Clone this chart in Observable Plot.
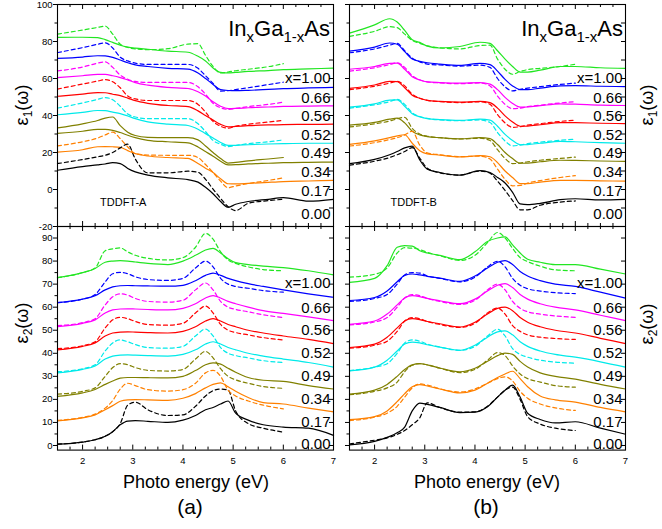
<!DOCTYPE html>
<html>
<head>
<meta charset="utf-8">
<script src="https://cdn.jsdelivr.net/npm/d3@7"></script>
<script src="https://cdn.jsdelivr.net/npm/@observablehq/plot@0.6"></script>
<style>
  html, body { margin: 0; padding: 0; background: white; }
  #chart { position: relative; width: 662px; height: 529px; overflow: hidden; }
  #chart svg { position: absolute; left: 0; top: 0; }
</style>
</head>
<body>
<div id="chart"></div>
<script>
// ---------- data ----------
const compositions = ["0.00", "0.17", "0.34", "0.49", "0.52", "0.56", "0.66", "1.00"];
const compLabels = ["0.00", "0.17", "0.34", "0.49", "0.52", "0.56", "0.66", "x=1.00"];
const compColors = ["#000000", "#ff8000", "#808000", "#00eaea", "#ff0000", "#ff00ff", "#0000ff", "#22e622"];

const energyTop = [1.5, 2.0, 2.3, 2.45, 2.6, 2.75, 2.9, 3.05, 3.3, 3.7, 4.1, 4.3, 4.45, 4.6, 4.75, 4.9, 5.05, 5.3, 5.7, 6.0, 6.5, 7.0];
const energyBottom = [1.5, 2.0, 2.25, 2.45, 2.6, 2.75, 2.9, 3.05, 3.3, 3.7, 4.0, 4.25, 4.45, 4.6, 4.75, 4.9, 5.05, 5.3, 5.6, 6.0, 6.5, 7.0];

// eps1, TDDFT-A (solid) and experiment (dashed), offset curves as plotted
const eps1A_calc = [
  [10.4, 12.4, 13.3, 13.8, 14.5, 14, 11.4, 9.5, 7.8, 6.3, 5.3, 4, 1.2, -2.3, -6.5, -9.6, -8, -6.5, -5.3, -4.4, -6.3, -5.3],
  [20.2, 21.5, 23.1, 23.2, 23.1, 22.8, 21, 19.4, 18.1, 17.3, 16.8, 14, 11.5, 9.2, 5.8, 3.1, 3, 3.3, 3.9, 4.3, 4.6, 4.9],
  [30.3, 31.5, 32.5, 32.5, 32, 30.8, 29.3, 28, 26.6, 25.8, 25.2, 23, 20.5, 18, 15.3, 13.3, 13.4, 13.8, 14.2, 14.5, 14.7, 14.8],
  [40.4, 41.7, 42.7, 42.6, 41.8, 41, 39.7, 38.3, 36.6, 35.3, 34.6, 32.6, 30.2, 27.8, 25.4, 23.8, 23.9, 24.2, 24.6, 24.8, 25, 25],
  [50.4, 51.6, 52.4, 52.3, 51.5, 50.7, 49.4, 48, 46.6, 45.4, 44.8, 42.5, 40, 37.5, 35.2, 33.9, 34.1, 34.5, 34.9, 35.1, 35.2, 35.3],
  [60.5, 61.5, 62.2, 62.2, 61.5, 60.5, 59.2, 57.8, 56.4, 55.2, 54.6, 52.8, 50.5, 47.4, 45, 43.7, 43.8, 44.2, 44.6, 44.9, 45.1, 45.2],
  [70.9, 71.6, 72.3, 72.2, 71.4, 70, 68.5, 67.4, 66.5, 65.5, 65.1, 63, 60, 56.8, 54, 53.5, 53.4, 53.6, 54.1, 54.5, 54.9, 55.2],
  [82.2, 82.3, 82.1, 81, 79.5, 78, 77, 76.4, 75.8, 74.8, 74.2, 72, 69.5, 65.7, 63.3, 63, 63.3, 63.8, 64.3, 64.8, 65.2, 65.6]
];
const eps1A_exp = [
  [14, 16.2, 17.7, 18.5, 20, 22.5, 24.5, 16.5, 9, 9, 9.9, 9.3, 5.5, 0.2, -4.8, -9.3, -11.4, -7.5, -6, -5.3],
  [23.6, 25.8, 27.8, 29.5, 31, 27.5, 23, 19.4, 18.6, 18.5, 18.5, 17.3, 13.5, 9.2, 4.5, 1, 1.9, 3.2, 4.9, 6.3],
  [33.3, 35.5, 37.3, 38.6, 39.2, 34.5, 31, 29.2, 28.2, 28, 28, 26.8, 23.5, 20, 16.7, 14.3, 14.7, 15.5, 16.5, 17.3],
  [44, 46.8, 48.7, 49.7, 48.5, 45, 40.8, 39.2, 38.3, 38.3, 38.3, 35.5, 31.3, 26.5, 24.5, 23.2, 23.8, 24.8, 25.8, 26.8],
  [54.3, 57, 58.6, 59.4, 58.2, 55, 50.5, 49, 48.1, 48.1, 48.1, 46, 41.8, 36.8, 34.2, 33.1, 34.2, 35.3, 36.5, 37.4],
  [64.1, 66.2, 68.3, 69, 66, 61.8, 59.6, 58.4, 57.9, 57.9, 57.9, 55.5, 51.5, 46.6, 44.2, 43.3, 43.8, 44.8, 46, 47.2],
  [74, 76.7, 78.5, 79.3, 76.5, 71.5, 69.5, 68.3, 67.6, 67.6, 67.6, 65.5, 61.5, 57.3, 53.2, 53.4, 54, 55, 56.7, 58],
  [84, 86.2, 87.6, 88.3, 84, 78.5, 76.8, 76, 75.6, 76.1, 78.6, 78.8, 72.5, 66.5, 63, 63.5, 64.2, 65, 66.4, 68]
];
// eps1, TDDFT-B
const eps1B_calc = [
  [14, 16.3, 18.8, 20.5, 22.5, 23.5, 16, 11, 9.2, 7.8, 10.2, 9.2, 6.5, 3.5, -1.5, -7.8, -8.2, -7.5, -5.5, -5, -5.6, -5.3],
  [24.4, 26.3, 28, 29, 29.6, 25, 21, 19.3, 18.6, 17.6, 18.3, 17.7, 14.5, 10, 6.5, 3.2, 3.2, 4, 4.9, 4.9, 4.7, 4.5],
  [34.8, 36.3, 38, 38.6, 36, 31.5, 29.5, 28.6, 28, 27.4, 28, 27.5, 24.3, 20, 16.7, 14.2, 14.3, 15, 15.8, 15.7, 15.4, 15.2],
  [44.5, 46.3, 48.3, 48.4, 45, 41, 39.3, 38.3, 37.8, 37.4, 38, 37.5, 34.2, 29.8, 26.5, 24.2, 24.3, 25, 26, 25.8, 25.3, 25],
  [54.7, 56.5, 58.5, 58.3, 55, 51, 49.3, 48.2, 47.6, 47.2, 47.6, 47, 44, 39.8, 36.5, 34.2, 34.3, 35, 36.2, 36.1, 35.8, 35.6],
  [65, 66.5, 68.2, 68.3, 65, 61, 59.2, 58.2, 57.8, 57.5, 57.8, 57, 54, 49.8, 46.5, 44.5, 44.6, 45.3, 46.3, 46.1, 45.6, 45.4],
  [74.8, 77, 79.2, 78.5, 74.5, 70.5, 69.3, 68.5, 67.8, 67.1, 68.2, 67.5, 64, 59.5, 56, 54, 54, 54.8, 56, 56.1, 55.8, 55.6],
  [84.5, 89, 92.3, 90.5, 86, 81, 79.5, 77.5, 76.5, 77.3, 79.6, 79, 75, 70.5, 66.5, 63.5, 63.5, 64.5, 66.5, 66.5, 65.8, 65.5]
];
const eps1B_exp = [
  [13.2, 15.3, 17.3, 18.8, 20.5, 22.6, 17, 11.5, 9, 7.8, 10, 8.8, 4.5, -0.5, -6, -11, -11, -8.5, -6.8, -6.2],
  [23.5, 25.3, 27, 28, 29.5, 31.5, 24, 19.8, 18.8, 17.8, 18, 16.5, 11, 5.5, 2, 2.2, 3.5, 4.8, 6.5, 7.5],
  [33.8, 35.5, 37, 38.2, 39, 33, 30, 28.8, 28, 27.3, 27.7, 26.5, 21.5, 16.8, 14, 14.3, 15, 15.8, 16.8, 17.5],
  [44, 45.8, 47.5, 48.7, 46, 41.5, 39.4, 38.4, 37.6, 37.2, 37.6, 36.2, 30.8, 26.2, 23.6, 24, 24.8, 25.6, 26.6, 27.2],
  [54, 55.8, 57.5, 58.5, 56, 51.5, 49.3, 48.2, 47.5, 47, 47.4, 46, 40.5, 36, 33.6, 34, 34.8, 35.6, 36.8, 37.5],
  [64, 65.8, 67.5, 68.5, 66, 61.5, 59.3, 58.2, 57.6, 57.2, 57.6, 56, 50.5, 46, 43.7, 44, 44.8, 45.6, 46.8, 47.5],
  [73.9, 76, 78, 79, 75, 71, 69, 67.8, 67.3, 66.7, 67.2, 66, 60, 55.5, 53.3, 54.2, 54.8, 55.6, 56.8, 57.5],
  [82.8, 85.5, 88, 87.5, 84, 80.6, 79, 77.7, 76.6, 76, 77.8, 78, 70.5, 65, 62.3, 63.8, 64.8, 65.5, 66.5, 67.7]
];
// eps2, TDDFT-A
const eps2A_calc = [
  [0.6, 1.5, 2.5, 4, 6, 9, 10.6, 10.8, 10.5, 10, 11, 13, 15.5, 16.5, 18, 19.3, 14, 11, 9, 8, 7.5, 4.4],
  [10.7, 12, 13.3, 15.5, 17.3, 19.2, 19.8, 19.9, 19.8, 19.6, 20.5, 22.5, 25, 26.5, 27.2, 25.5, 23.5, 20.8, 18.6, 18, 16.2, 14.6],
  [21.3, 22.8, 24.3, 26.5, 28, 29.2, 29.5, 29.5, 29.4, 29.3, 30, 32.5, 35, 35.8, 35.3, 33.5, 31.8, 29.5, 28.3, 27.8, 26, 24.5],
  [31.5, 33, 34.5, 37.5, 38.8, 39.2, 39.3, 39.2, 39, 38.8, 39.5, 41.5, 44, 45, 44, 42.5, 41.5, 40, 38.8, 37.5, 36, 34],
  [41.5, 43, 44.5, 47.5, 48.8, 49.2, 49.3, 49.2, 49, 48.8, 49.5, 51.5, 54, 55, 54, 52.5, 51.5, 50, 48.8, 47.5, 46, 44.2],
  [51.6, 53, 54.5, 57.5, 58.8, 59.2, 59.3, 59.2, 59, 58.8, 59.5, 61.5, 64, 65, 64, 62.5, 61.5, 60, 58.5, 57.3, 55.8, 54.2],
  [62, 63.5, 65, 67.5, 68.8, 69.3, 69.4, 69.3, 69.2, 69.1, 69.5, 71.5, 73.8, 74.8, 73.8, 72.5, 71.5, 70.2, 69, 67.5, 65.8, 64.3],
  [72.8, 75, 76.8, 79.5, 80, 80.2, 80, 79.6, 79, 78.5, 80, 82.5, 84.8, 85.5, 83.5, 81, 79.3, 78.5, 77.8, 77.2, 75.8, 74]
];
const eps2A_exp = [
  [0.6, 1.5, 2.5, 4, 6, 9.5, 17.5, 18.8, 15.5, 13, 13.3, 17, 21.5, 23.8, 24.5, 24, 15, 9.5, 7.5, 5.8],
  [10.9, 12.2, 13.6, 16.2, 19.5, 24.5, 27, 26, 24.2, 23.6, 24.2, 27, 31.5, 32.6, 30, 24, 21.5, 19.3, 17.5, 15.9],
  [22.3, 23.5, 25, 30, 33.8, 35.5, 35, 33.8, 32.6, 32.3, 33, 37.5, 40.8, 38, 33.3, 30, 28.5, 27, 25.6, 24.8],
  [32, 33.3, 35, 41, 44.5, 45.8, 45, 43.8, 42.5, 42.2, 43, 47.5, 50.5, 47.5, 42.5, 40, 39, 38, 36.8, 36],
  [42, 43.3, 45, 51, 54.5, 55.6, 55, 53.8, 52.5, 52.2, 53, 57.5, 60.5, 57.5, 52.5, 50, 49, 48, 46.8, 45.8],
  [52, 53.3, 55, 61, 64.5, 65.8, 65.2, 63.8, 62.5, 62.2, 63, 67.5, 70.5, 67.5, 62.5, 60, 59, 58, 56.7, 55.5],
  [62, 63.5, 65.5, 71, 74.5, 75.1, 74.5, 73.2, 72, 71.6, 72.5, 77, 80, 77.5, 72.5, 70, 69, 68.2, 67.2, 66.5],
  [72.8, 75, 77, 84.5, 85.3, 85.7, 84, 82.5, 81.2, 80.5, 81.5, 86, 92, 89.5, 84, 80.5, 79, 77.5, 76.3, 75.8]
];
// eps2, TDDFT-B
const eps2B_calc = [
  [0.3, 1.8, 3.5, 5.5, 8, 15, 18.4, 17.8, 16.5, 14.3, 14.5, 16.8, 21, 24, 26.2, 21, 14, 11.3, 9.8, 10.3, 7.5, 4.9],
  [11.2, 12.5, 15, 19, 22.5, 25.5, 26.4, 25.8, 24.5, 22.8, 24, 27, 29.5, 31, 32.2, 29, 25.5, 21.5, 19.8, 18.8, 16.5, 14.6],
  [22.3, 24, 26.5, 30, 33, 35, 35.5, 35, 33.6, 32, 33.5, 36.5, 39, 40.1, 39.5, 36.5, 34, 31.5, 30, 28.8, 26.5, 24.5],
  [32.4, 34, 37, 41, 44, 44.8, 44.5, 43.7, 42.7, 41.3, 43.5, 47, 49.3, 49.7, 48, 45, 43, 41, 39.5, 38.3, 36.3, 34],
  [42.5, 44, 47, 51, 54, 55, 54.6, 53.8, 52.8, 51.4, 53.5, 57, 59.5, 60, 58.5, 55.5, 53.5, 51.5, 50, 48.8, 46.5, 44.2],
  [52.6, 54, 57, 61, 64, 65, 64.6, 63.8, 62.8, 61.5, 63.5, 67, 69.5, 70.2, 68.5, 65.5, 63.5, 61.5, 60, 58.8, 56.5, 54.2],
  [62.9, 64.2, 67, 71, 73.8, 74.4, 74, 73.4, 72.6, 71.2, 73.5, 77, 79.5, 80.2, 78.5, 75.5, 73.5, 71.5, 70, 69, 66.5, 63.9],
  [70.8, 72.5, 78, 86, 86.7, 86.5, 84.5, 83.5, 82.5, 80.6, 84, 88.5, 90, 90.5, 87, 83.5, 80.8, 79.5, 78.5, 78.5, 76.5, 74.4]
];
const eps2B_exp = [
  [0.7, 2.3, 3.3, 4.8, 6.5, 9, 12, 18.5, 16.5, 14.5, 14.6, 17, 21, 24, 25.3, 20, 12.5, 9.3, 7.5, 6.5],
  [10.8, 12.3, 14, 17, 21, 25, 26.7, 26.2, 24.6, 23.2, 24.5, 27, 29, 29.8, 28, 23.5, 20.5, 18, 16.3, 15.2],
  [22, 23.5, 25, 27.5, 32, 34.8, 35.5, 35, 33.5, 31.6, 33, 37, 40.3, 39, 34.5, 31, 29, 27.5, 26, 25.3],
  [32.5, 34, 35.5, 40, 44.5, 45.8, 45.2, 44, 42.7, 41.3, 43, 47.5, 50.4, 47.5, 42, 39.5, 38.3, 37, 36.2, 35.7],
  [42.2, 43.5, 45.2, 49.5, 54, 55.5, 55, 53.8, 52.5, 51.2, 53, 57.5, 59.6, 57, 52, 49.5, 48, 47, 46.4, 46],
  [52.3, 53.6, 55.5, 60, 64, 65.5, 65, 63.8, 62.5, 61.2, 63, 67.5, 70, 67.5, 62.5, 59.5, 58, 57, 56.2, 55.6],
  [62.5, 63.8, 65.5, 70, 74, 75, 74.8, 73.6, 72.5, 71, 73, 77.5, 79.9, 77.5, 72.5, 69.5, 68, 67, 66.3, 65.9],
  [73, 74.3, 77, 83.5, 85.8, 85.6, 85, 83.8, 82.3, 80.3, 82.5, 88, 92.4, 90, 85.5, 81.5, 79.8, 77.8, 76.2, 75.8]
];

// label positions (y value of each composition label at the right edge)
const labelPosTop = [-13.5, -1, 9.5, 19.5, 29.5, 39.5, 49.5, 60];
const labelPosBottom = [0.5, 10, 20, 30, 40, 50, 59.5, 70.3];

// axis ticks
const xMajor = [2, 3, 4, 5, 6, 7];
const xMinor = [1.75, 2.25, 2.5, 2.75, 3.25, 3.5, 3.75, 4.25, 4.5, 4.75, 5.25, 5.5, 5.75, 6.25, 6.5, 6.75];
const yTopMajor = [-20, 0, 20, 40, 60, 80, 100];
const yTopMinor = [-10, 10, 30, 50, 70, 90];
const yTopRight = [-10, 0, 10, 20, 30, 40, 50, 60, 70, 80, 90];
const yBotMajor = [0, 10, 20, 30, 40, 50, 60, 70, 80, 90];
const yBotMinor = [5, 15, 25, 35, 45, 55, 65, 75, 85];
const yBotRight = [0, 10, 20, 30, 40, 50, 60, 70, 80, 90];

const notes = {A: [{e: 2.81, v: -7, text: "TDDFT-A"}], B: [{e: 2.78, v: -7, text: "TDDFT-B"}]};

// ---------- drawing ----------
const FW = 662, FH = 529;
const FONT = "'Liberation Sans', Arial, Helvetica, sans-serif";

function toRows(energy, series) {
  return series.flatMap((vals, i) => vals.map((v, j) => ({e: energy[j], v, comp: compositions[i]})));
}

function panel(cfg) {
  const W = cfg.R - cfg.L, H = cfg.B - cfg.T;
  const calcRows = toRows(cfg.energy, cfg.calc);
  const expRows = toRows(cfg.energy, cfg.exp);
  const solidExp = cfg.expSolid || [];
  const labels = compositions.map((c, i) => ({pos: cfg.labelPos[i], label: compLabels[i]}));
  const marks = [
    Plot.ruleX(xMajor, {insetTop: H - 5, strokeWidth: 1}),
    Plot.ruleX(xMinor, {insetTop: H - 3, strokeWidth: 1}),
    Plot.ruleX(xMajor, {insetBottom: H - 5, strokeWidth: 1}),
    Plot.ruleX(xMinor, {insetBottom: H - 3, strokeWidth: 1}),
    Plot.ruleY(cfg.yMinor, {insetLeft: -2.5, insetRight: W, strokeWidth: 1}),
    Plot.ruleY(cfg.yRight, {insetLeft: W - 4, strokeWidth: 1}),
    Plot.line(calcRows, {x: "e", y: "v", z: "comp", stroke: "comp", strokeWidth: 1.2, curve: "monotone-x"}),
    Plot.line(expRows.filter(d => !solidExp.includes(d.comp)), {x: "e", y: "v", z: "comp", stroke: "comp", strokeWidth: 1.2, strokeDasharray: "4,3", curve: "monotone-x"}),
    Plot.line(expRows.filter(d => solidExp.includes(d.comp)), {x: "e", y: "v", z: "comp", stroke: "comp", strokeWidth: 1.2, curve: "monotone-x"}),
    Plot.text(labels, {y: "pos", text: "label", frameAnchor: "right", textAnchor: "end", dx: -3, fontSize: 15, fill: "black"}),
    Plot.frame({stroke: "black", strokeWidth: 1.1})
  ];
  if (cfg.note) marks.push(Plot.text(cfg.note, {x: "e", y: "v", text: "text", fontSize: 11, fill: "black"}));
  return Plot.plot({
    width: FW, height: FH,
    marginLeft: cfg.L, marginRight: FW - cfg.R, marginTop: cfg.T, marginBottom: FH - cfg.B,
    style: {background: "transparent", overflow: "visible", fontFamily: FONT, fontSize: "9.5px", color: "black"},
    x: {domain: [1.5, 7], axis: cfg.xLabels ? "bottom" : null, ticks: xMajor, tickSize: 0, tickPadding: 7, label: null,
        tickFormat: d => String(d)},
    y: {domain: cfg.ydomain, axis: "left", ticks: cfg.yMajor, tickSize: 4, tickPadding: 1, label: null,
        tickFormat: cfg.yLabels ? (d => String(d)) : (() => "")},
    color: {domain: compositions, range: compColors},
    marks
  });
}

const chart = document.getElementById("chart");
const configs = [
  {L: 57, R: 333, T: 4, B: 226, ydomain: [-20, 100], yMajor: yTopMajor, yMinor: yTopMinor, yRight: yTopRight,
   energy: energyTop, calc: eps1A_calc, exp: eps1A_exp, expSolid: ["0.34"], labelPos: labelPosTop, yLabels: true, xLabels: false, note: notes.A},
  {L: 349, R: 625, T: 4, B: 226, ydomain: [-20, 100], yMajor: yTopMajor, yMinor: yTopMinor, yRight: yTopRight,
   energy: energyTop, calc: eps1B_calc, exp: eps1B_exp, labelPos: labelPosTop, yLabels: false, xLabels: false, note: notes.B},
  {L: 57, R: 333, T: 226, B: 449.6, ydomain: [-2, 95], yMajor: yBotMajor, yMinor: yBotMinor, yRight: yBotRight,
   energy: energyBottom, calc: eps2A_calc, exp: eps2A_exp, labelPos: labelPosBottom, yLabels: true, xLabels: true},
  {L: 349, R: 625, T: 226, B: 449.6, ydomain: [-2, 95], yMajor: yBotMajor, yMinor: yBotMinor, yRight: yBotRight,
   energy: energyBottom, calc: eps2B_calc, exp: eps2B_exp, labelPos: labelPosBottom, yLabels: false, xLabels: true}
];
configs.forEach(cfg => chart.appendChild(panel(cfg)));

// ---------- text overlay ----------
const NS = "http://www.w3.org/2000/svg";
const overlay = document.createElementNS(NS, "svg");
overlay.setAttribute("width", FW);
overlay.setAttribute("height", FH);
overlay.style.fontFamily = FONT;
overlay.style.overflow = "visible";
overlay.innerHTML = `
  <text x="330" y="36" text-anchor="end" font-size="22">In<tspan font-size="15" dy="6">x</tspan><tspan dy="-6">Ga</tspan><tspan font-size="15" dy="6">1-x</tspan><tspan dy="-6">As</tspan></text>
  <text x="623" y="36" text-anchor="end" font-size="22">In<tspan font-size="15" dy="6">x</tspan><tspan dy="-6">Ga</tspan><tspan font-size="15" dy="6">1-x</tspan><tspan dy="-6">As</tspan></text>
  <text transform="translate(28,105) rotate(-90)" text-anchor="middle" font-size="18">ε<tspan font-size="12" dy="4">1</tspan><tspan dy="-4">(ω)</tspan></text>
  <text transform="translate(28,323) rotate(-90)" text-anchor="middle" font-size="18">ε<tspan font-size="12" dy="4">2</tspan><tspan dy="-4">(ω)</tspan></text>
  <text transform="translate(653,105) rotate(-90)" text-anchor="middle" font-size="18">ε<tspan font-size="12" dy="4">1</tspan><tspan dy="-4">(ω)</tspan></text>
  <text transform="translate(653,324) rotate(-90)" text-anchor="middle" font-size="18">ε<tspan font-size="12" dy="4">2</tspan><tspan dy="-4">(ω)</tspan></text>
  <text x="196" y="488" text-anchor="middle" font-size="18">Photo energy (eV)</text>
  <text x="487" y="488" text-anchor="middle" font-size="18">Photo energy (eV)</text>
  <text x="190" y="514" text-anchor="middle" font-size="21">(a)</text>
  <text x="486" y="514" text-anchor="middle" font-size="21">(b)</text>
`;
chart.appendChild(overlay);
</script>
</body>
</html>
